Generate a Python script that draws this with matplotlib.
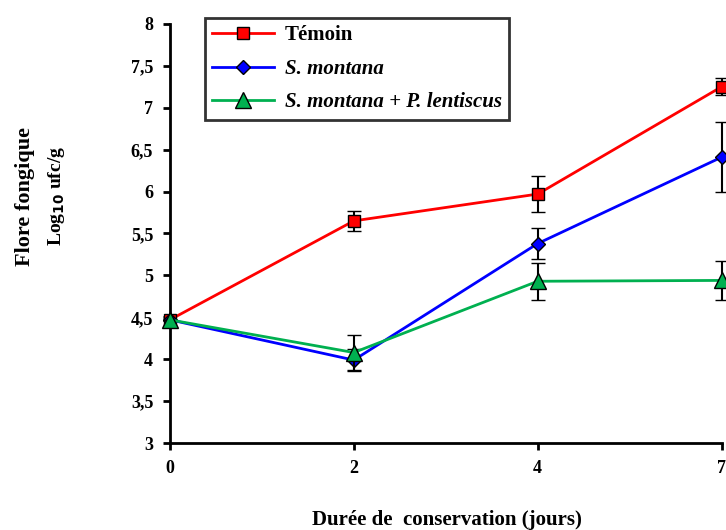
import numpy as np
import matplotlib.pyplot as plt
from matplotlib.lines import Line2D

# Data
days = ['0', '2', '4', '7']
temoin = [4.47, 5.65, 5.97, 7.25]
temoinErr = [0.0, 0.12, 0.21, 0.10]
montana = [4.47, 3.99, 5.38, 6.41]
montanaErr = [0.0, 0.13, 0.19, 0.42]
mixte = [4.47, 4.08, 4.93, 4.94]
mixteErr = [0.0, 0.21, 0.22, 0.23]

plt.rcParams['font.family'] = ['Liberation Serif', 'DejaVu Serif']
plt.rcParams['font.weight'] = 'bold'

fig = plt.figure(figsize=(7.26, 5.30), dpi=100)
ax = fig.add_axes([0.234, 0.164, 0.760, 0.791])

x = np.arange(len(days))

# Series styles
styles = [
    dict(color='#ff0000', marker='s', ms=9),
    dict(color='#0000ff', marker='D', ms=7),
    dict(color='#00b050', marker='^', ms=11),
]
series = [temoin, montana, mixte]
errors = [temoinErr, montanaErr, mixteErr]

for values, err, st, z in zip(series, errors, styles, [3, 3, 4]):
    ax.errorbar(x, values, yerr=err, color=st['color'], lw=2, marker=st['marker'],
                ms=st['ms'], mec='k', mew=1, ecolor='k', elinewidth=1.5, capsize=5,
                capthick=1.5, clip_on=False, zorder=z)

ax.set_xlim(0, 3)
ax.set_ylim(3, 8)
ax.set_xticks(x)
ax.set_xticklabels(days)
ax.set_yticks(np.arange(3, 8.01, 0.5))
ax.set_yticklabels([('%g' % v).replace('.', ',') for v in np.arange(3, 8.01, 0.5)])

for side in ['top', 'right']:
    ax.spines[side].set_visible(False)
for side in ['left', 'bottom']:
    ax.spines[side].set_linewidth(2)
ax.tick_params(width=2, length=5, labelsize=13, pad=7)
for lab in ax.get_xticklabels() + ax.get_yticklabels():
    lab.set_fontweight('bold')

# Legend without error bars
handles = [Line2D([], [], color=st['color'], lw=2, marker=st['marker'], ms=st['ms'],
                  mec='k', mew=1) for st in styles]
labels = ['Témoin', 'S. montana', 'S. montana + P. lentiscus']
leg = ax.legend(handles, labels, loc='upper left', bbox_to_anchor=(0.063, 1.014),
                borderaxespad=0, fancybox=False, edgecolor='k', fontsize=15,
                handlelength=3, handletextpad=0.5, borderpad=0.35, labelspacing=0.65)
leg.get_frame().set_linewidth(2)
texts = leg.get_texts()
texts[0].set_fontweight('bold')
texts[1].set_fontstyle('italic')
texts[2].set_fontstyle('italic')

fig.text(0.035, 0.63, 'Flore fongique', rotation=90, ha='center', va='center',
         fontsize=16, fontweight='bold')
fig.text(0.078, 0.63, 'Log$_{\\mathbf{10}}$ ufc/g', rotation=90, ha='center',
         va='center', fontsize=14, fontweight='bold')
fig.text(0.615, 0.018, 'Durée de  conservation (jours)', ha='center', va='center',
         fontsize=15, fontweight='bold')

plt.savefig('out.png', dpi=100)
